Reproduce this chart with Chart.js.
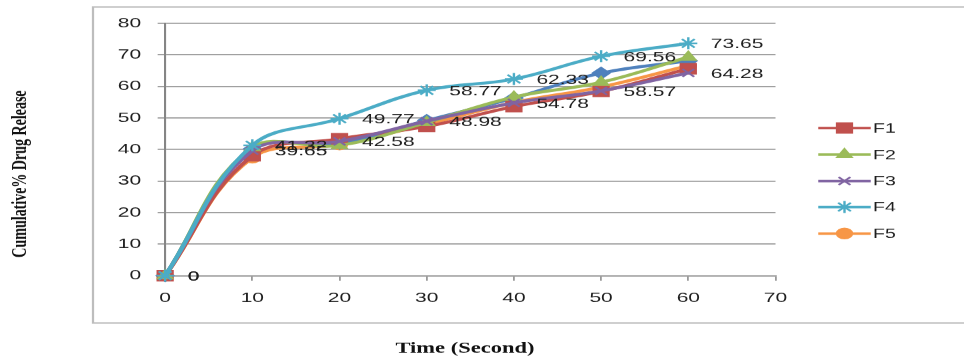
<!DOCTYPE html>
<html>
<head>
<meta charset="utf-8">
<script src="https://cdn.jsdelivr.net/npm/chart.js@4.4.1/dist/chart.umd.min.js"></script>
<style>
  html, body { margin: 0; padding: 0; background: #ffffff; overflow: hidden; }
  /* the figure is laid out on a 643px-wide canvas and widened to the page width */
  #wrap {
    position: absolute; left: 0; top: 0;
    width: 643px; height: 358px;
    transform: scaleX(1.4992); transform-origin: 0 0;
  }
</style>
</head>
<body>
<div id="wrap"><canvas id="chart"></canvas></div>
<script>
// Sampling times (seconds)
const times = [0, 10, 20, 30, 40, 50, 60];

// Cumulative % drug release per formulation
const f1 = [0, 38.0, 43.4, 47.3, 53.6, 58.4, 65.6];
const f2 = [0, 40.6, 41.3, 48.6, 56.6, 61.3, 69.3];
const f3 = [0, 39.65, 42.58, 48.98, 54.78, 58.57, 64.28];
const f4 = [0, 41.32, 49.77, 58.77, 62.33, 69.56, 73.65];
const f5 = [0, 37.4, 41.6, 48.0, 54.9, 59.8, 66.6];
// extra series plotted without a legend entry
const base = [0, 40.2, 42.0, 49.2, 56.3, 64.2, 68.1];

const seriesNames = ['F1', 'F2', 'F3', 'F4', 'F5'];
const xTicks = [0, 10, 20, 30, 40, 50, 60, 70];
const yTicks = [0, 10, 20, 30, 40, 50, 60, 70, 80];

// series that carry value labels
const labelledSeries = ['F3', 'F4'];

const toPoints = arr => arr.map((v, i) => ({ x: times[i], y: v }));

const styles = {
  F1:   { color: '#C0504D', pointStyle: 'rect',     radius: 7,   order: 3 },
  F2:   { color: '#9BBB59', pointStyle: 'triangle', radius: 5.5, order: 2 },
  F3:   { color: '#8064A2', pointStyle: 'crossRot', radius: 5.5, order: 1 },
  F4:   { color: '#4BACC6', pointStyle: 'star',     radius: 6,   order: 0 },
  F5:   { color: '#F79646', pointStyle: 'circle',   radius: 5,   order: 5 },
  base: { color: '#4F81BD', pointStyle: 'rectRot',  radius: 5.5, order: 4 }
};

function makeDataset(name, values, legend) {
  const s = styles[name];
  return {
    label: name,
    data: toPoints(values),
    borderColor: s.color,
    backgroundColor: s.color,
    pointBackgroundColor: s.color,
    pointBorderColor: s.color,
    pointStyle: s.pointStyle,
    pointRadius: s.radius,
    pointBorderWidth: 1.6,
    borderWidth: 3,
    tension: 0.4,
    order: s.order,
    clip: false,
    inLegend: legend
  };
}

const datasets = [
  makeDataset('F1', f1, true),
  makeDataset('F2', f2, true),
  makeDataset('F3', f3, true),
  makeDataset('F4', f4, true),
  makeDataset('F5', f5, true),
  makeDataset('base', base, false)
];

const FONT_TICK = { family: "'Liberation Sans', Arial, sans-serif", size: 14 };

// outer frame around the plot and legend
const framePlugin = {
  id: 'frame',
  beforeDraw(chart) {
    const ctx = chart.ctx;
    ctx.save();
    ctx.strokeStyle = '#bdbdbd';
    ctx.lineWidth = 1.5;
    ctx.strokeRect(62, 7, 700, 316);
    ctx.restore();
  }
};

// value labels to the right of the points
const valueLabelPlugin = {
  id: 'valueLabels',
  afterDatasetsDraw(chart) {
    const ctx = chart.ctx;
    ctx.save();
    ctx.font = `14px ${FONT_TICK.family}`;
    ctx.fillStyle = '#1e1e1e';
    ctx.textAlign = 'left';
    ctx.textBaseline = 'middle';
    chart.data.datasets.forEach((ds, di) => {
      if (!labelledSeries.includes(ds.label)) return;
      const meta = chart.getDatasetMeta(di);
      meta.data.forEach((pt, i) => {
        ctx.fillText(String(ds.data[i].y), pt.x + 15, pt.y + 1);
      });
    });
    ctx.restore();
  }
};

// legend: line segment with marker, then series name
const legendPlugin = {
  id: 'lineLegend',
  afterDraw(chart) {
    const ctx = chart.ctx;
    const x0 = 545.5, x1 = 580.5, xm = (x0 + x1) / 2;
    const rows = [128, 154.5, 181, 207, 233.5];
    ctx.save();
    seriesNames.forEach((name, i) => {
      const s = styles[name];
      const y = rows[i];
      ctx.strokeStyle = s.color;
      ctx.lineWidth = 2.5;
      ctx.beginPath();
      ctx.moveTo(x0, y);
      ctx.lineTo(x1, y);
      ctx.stroke();
      ctx.fillStyle = s.color;
      ctx.lineWidth = 1.6;
      Chart.helpers.drawPoint(ctx, {
        pointStyle: s.pointStyle, radius: s.radius, rotation: 0, borderWidth: 1.6
      }, xm, y);
      ctx.fillStyle = '#1e1e1e';
      ctx.font = `13px ${FONT_TICK.family}`;
      ctx.textAlign = 'left';
      ctx.textBaseline = 'middle';
      ctx.fillText(name, x1 + 1.5, y + 1);
    });
    ctx.restore();
  }
};

// axis titles
const titlePlugin = {
  id: 'axisTitles',
  afterDraw(chart) {
    const ctx = chart.ctx;
    ctx.save();
    ctx.fillStyle = '#111111';
    ctx.textAlign = 'center';
    ctx.textBaseline = 'middle';
    ctx.font = "bold 14px 'Liberation Serif', 'Times New Roman', serif";
    ctx.translate(13.5, 174);
    ctx.rotate(-Math.PI / 2);
    ctx.fillText('Cumulative% Drug Release', 0, 0);
    ctx.restore();

    ctx.save();
    ctx.fillStyle = '#111111';
    ctx.textAlign = 'center';
    ctx.textBaseline = 'middle';
    ctx.font = "bold 15px 'Liberation Serif', 'Times New Roman', serif";
    ctx.fillText('Time (Second)', 310, 349);
    ctx.restore();
  }
};

new Chart(document.getElementById('chart'), {
  type: 'line',
  data: { datasets },
  options: {
    responsive: true,
    maintainAspectRatio: false,
    devicePixelRatio: 1.5,
    animation: false,
    layout: { padding: { left: 60.1, right: 126, top: 23.3, bottom: 42.3 } },
    plugins: {
      legend: { display: false },
      tooltip: { enabled: false }
    },
    scales: {
      x: {
        type: 'linear',
        min: xTicks[0],
        max: xTicks[xTicks.length - 1],
        afterBuildTicks(scale) { scale.ticks = xTicks.map(v => ({ value: v })); },
        afterFit(scale) { scale.height = 40; },
        grid: {
          drawOnChartArea: false,
          drawTicks: true,
          tickLength: 5,
          color: '#9a9a9a',
          lineWidth: 1.2
        },
        border: { display: true, color: '#9a9a9a', width: 1.2 },
        ticks: { font: FONT_TICK, color: '#1e1e1e', padding: 9, maxRotation: 0 }
      },
      y: {
        min: yTicks[0],
        max: yTicks[yTicks.length - 1],
        afterBuildTicks(scale) { scale.ticks = yTicks.map(v => ({ value: v })); },
        afterFit(scale) { scale.width = 50; },
        grid: {
          drawTicks: true,
          tickLength: 5,
          color: '#9a9a9a',
          lineWidth: 1.2
        },
        border: { display: true, color: '#858585', width: 1.4 },
        ticks: { font: FONT_TICK, color: '#1e1e1e', padding: 11 }
      }
    }
  },
  plugins: [framePlugin, valueLabelPlugin, legendPlugin, titlePlugin]
});
</script>
</body>
</html>
